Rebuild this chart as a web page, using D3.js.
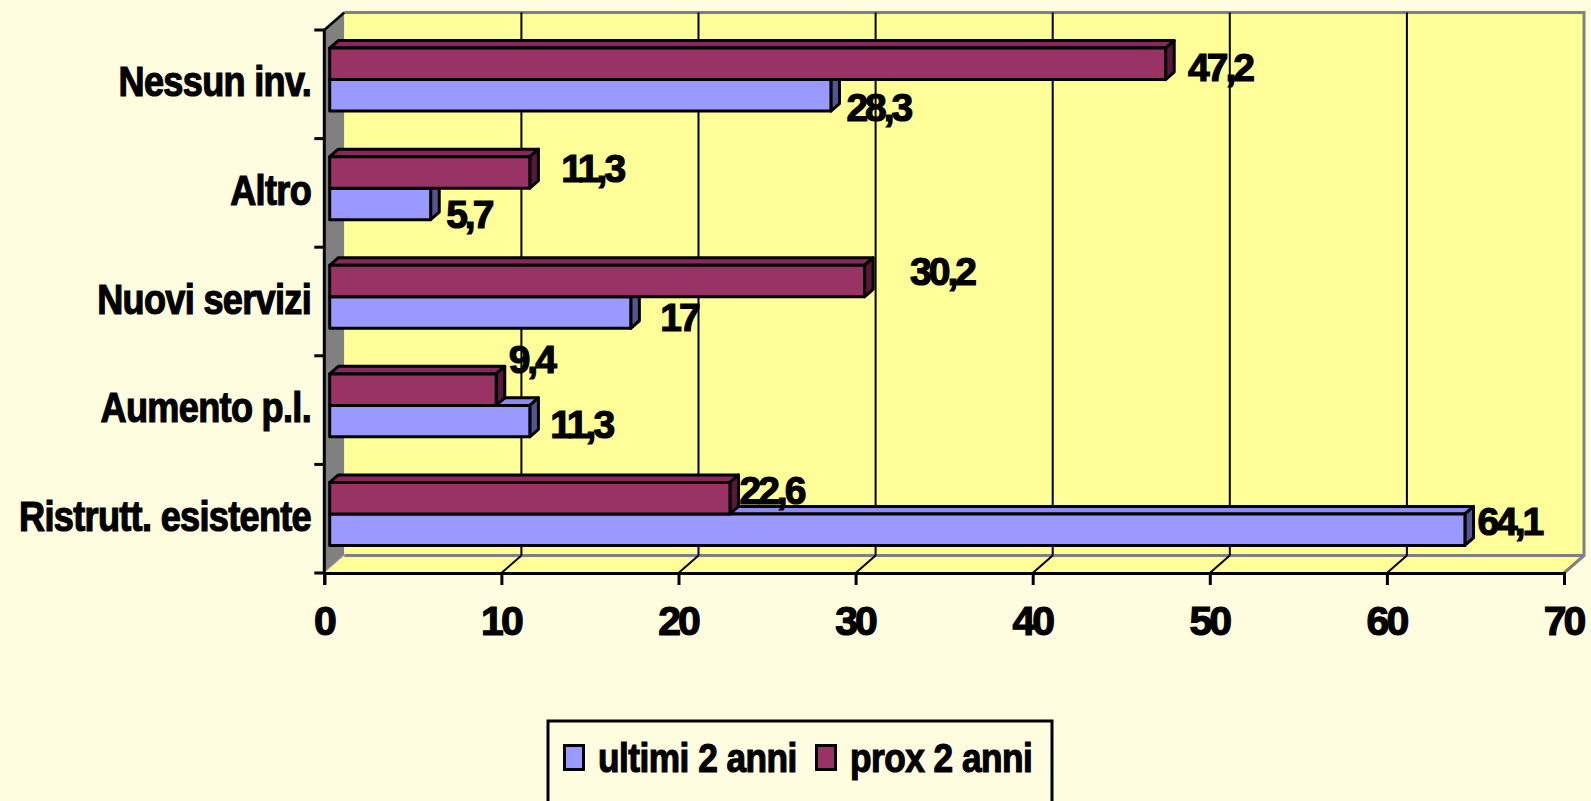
<!DOCTYPE html>
<html>
<head>
<meta charset="utf-8">
<script src="https://cdn.jsdelivr.net/npm/d3@7/dist/d3.min.js"></script>
<style>
  html, body { margin: 0; padding: 0; background: #FEFDE0; }
  svg { display: block; }
  text { font-family: "Liberation Sans", Arial, sans-serif; font-weight: 700; fill: #000; stroke: #000; stroke-width: 1.2px; }
</style>
</head>
<body>
<svg id="chart" width="1591" height="801"></svg>
<script>
// Investment types, listed from top to bottom
const categories = ["Nessun inv.", "Altro", "Nuovi servizi", "Aumento p.l.", "Ristrutt. esistente"];
const seriesNames = ["ultimi 2 anni", "prox 2 anni"];
const ultimi2anni = [28.3, 5.7, 17, 11.3, 64.1];
const prox2anni = [47.2, 11.3, 30.2, 9.4, 22.6];
const xTicks = [0, 10, 20, 30, 40, 50, 60, 70];

const colors = {
  "ultimi 2 anni": { front: "#9999FF", top: "#8C8CF0", side: "#54548F" },
  "prox 2 anni":   { front: "#993366", top: "#86295A", side: "#561A38" }
};

// Label offsets from the bar tip (px), mimicking the spreadsheet's 3D label placement
const labelNudge = {
  "ultimi 2 anni": [[17, 11.5], [17, 10], [31, 4.6], [22, 3], [14, -8.5]],
  "prox 2 anni":   [[24, 3.5], [33, -4], [47, -10], [14, -31], [11, -8]]
};

const svg = d3.select("#chart");
const fmt = d3.formatLocale({ decimal: ",", thousands: ".", grouping: [3], currency: ["", "€"] }).format("~r");

// Plot frame: front plane and depth offset of the 3D box
const plotL = 324.3, plotR = 1564, plotT = 30, plotB = 573;
const DX = 20, DY = -17.5;
const barFront = 0.27, barBack = 0.70; // depth fractions occupied by the bars

const x = d3.scaleLinear().domain([0, 70]).range([plotL, plotR]);
const y = d3.scaleBand().domain(categories).range([plotT, plotB]).paddingInner(0).paddingOuter(0);
const ySub = d3.scaleBand().domain(["prox 2 anni", "ultimi 2 anni"]).range([0, y.bandwidth()]).paddingInner(0).paddingOuter(0.724);

const P = (px, py, f) => [px + f * DX, py + f * DY];
const poly = pts => pts.map(p => p.join(",")).join(" ");

// Left side wall
svg.append("polygon")
  .attr("points", poly([P(plotL, plotT, 0), P(plotL, plotT, 1), P(plotL, plotB, 1), P(plotL, plotB, 0)]))
  .attr("fill", "#808080");
svg.append("line")
  .attr("x1", plotL).attr("y1", plotB).attr("x2", plotL + DX).attr("y2", plotB + DY)
  .attr("stroke", "#A0A0A0").attr("stroke-width", 2);

// Back wall
svg.append("rect")
  .attr("x", plotL + DX).attr("y", plotT + DY)
  .attr("width", plotR - plotL).attr("height", plotB - plotT)
  .attr("fill", "#FFFF99");
// Floor
svg.append("polygon")
  .attr("points", poly([P(plotL, plotB, 0), P(plotL, plotB, 1), P(plotR, plotB, 1), P(plotR, plotB, 0)]))
  .attr("fill", "#FFFF99");

// Gray frame edges
const gray = "#808080";
svg.append("polyline")
  .attr("points", poly([P(plotL, plotT, 1), P(plotR, plotT, 1), P(plotR, plotB, 1), P(plotR, plotB, 0)]))
  .attr("fill", "none").attr("stroke", gray).attr("stroke-width", 3);
svg.append("line")
  .attr("x1", plotL + DX).attr("y1", plotB + DY).attr("x2", plotR + DX).attr("y2", plotB + DY)
  .attr("stroke", gray).attr("stroke-width", 3);

// Gridlines on the back wall and floor
const inner = xTicks.filter(t => t > 0 && t < 70);
svg.append("g").selectAll("line").data(inner).join("line")
  .attr("x1", d => x(d) + DX).attr("x2", d => x(d) + DX)
  .attr("y1", plotT + DY).attr("y2", plotB + DY)
  .attr("stroke", "#000").attr("stroke-width", 2);
svg.append("g").selectAll("line").data(inner).join("line")
  .attr("x1", d => x(d)).attr("y1", plotB)
  .attr("x2", d => x(d) + DX).attr("y2", plotB + DY)
  .attr("stroke", "#000").attr("stroke-width", 2);

// Left wall top edge
svg.append("line")
  .attr("x1", plotL).attr("y1", plotT).attr("x2", plotL + DX).attr("y2", plotT + DY)
  .attr("stroke", "#000").attr("stroke-width", 2.5);

// X axis
const xAxis = svg.append("g")
  .attr("transform", `translate(0,${plotB})`)
  .call(d3.axisBottom(x).tickValues(xTicks).tickSize(12).tickPadding(20).tickFormat(d3.format("d")));
xAxis.select(".domain").attr("stroke", "#000").attr("stroke-width", 3);
xAxis.selectAll(".tick line").attr("stroke", "#000").attr("stroke-width", 3);
xAxis.selectAll(".tick text")
  .attr("font-size", 41).attr("letter-spacing", "-3px")
  .attr("dx", "-1px").attr("y", 62).attr("dy", 0)
  .attr("fill", "#000").attr("stroke", "#000").attr("stroke-width", 1.2)
  .style("font-family", "'Liberation Sans', Arial, sans-serif").style("font-weight", 700);

// Y axis line, ticks at band edges, category labels
svg.append("line")
  .attr("x1", plotL).attr("x2", plotL).attr("y1", plotT).attr("y2", plotB)
  .attr("stroke", "#000").attr("stroke-width", 3);
const edges = categories.map(c => y(c)).concat([plotB]);
svg.append("g").selectAll("line").data(edges).join("line")
  .attr("x1", plotL - 10).attr("x2", plotL).attr("y1", d => d).attr("y2", d => d)
  .attr("stroke", "#000").attr("stroke-width", 3);
svg.append("g").selectAll("text").data(categories).join("text")
  .attr("transform", d => `translate(311,${y(d) + y.bandwidth() / 2 + 12}) scale(0.86,1)`)
  .attr("text-anchor", "end")
  .attr("font-size", 42).attr("letter-spacing", "-0.8px").attr("stroke-width", 1.6)
  .text(d => d);

// Bars: blue series first so the maroon bar above it hides its top face
const seriesValues = { "ultimi 2 anni": ultimi2anni, "prox 2 anni": prox2anni };
const barsG = svg.append("g");
categories.forEach((cat, i) => {
  ["ultimi 2 anni", "prox 2 anni"].forEach(s => {
    const v = seriesValues[s][i];
    const y0 = y(cat) + ySub(s), y1 = y0 + ySub.bandwidth();
    const x0 = x(0), x1 = x(v);
    const c = colors[s];
    const g = barsG.append("g").attr("stroke", "#000").attr("stroke-width", 3).attr("stroke-linejoin", "round");
    g.append("polygon")
      .attr("points", poly([P(x0, y0, barFront), P(x1, y0, barFront), P(x1, y0, barBack), P(x0, y0, barBack)]))
      .attr("fill", c.top);
    g.append("polygon")
      .attr("points", poly([P(x1, y0, barFront), P(x1, y0, barBack), P(x1, y1, barBack), P(x1, y1, barFront)]))
      .attr("fill", c.side);
    const f0 = P(x0, y0, barFront), f1 = P(x1, y1, barFront);
    g.append("rect")
      .attr("x", f0[0]).attr("y", f0[1]).attr("width", f1[0] - f0[0]).attr("height", f1[1] - f0[1])
      .attr("fill", c.front);
  });
});

// Value labels
categories.forEach((cat, i) => {
  seriesNames.forEach(s => {
    const v = seriesValues[s][i];
    const y0 = y(cat) + ySub(s);
    const tip = P(x(v), y0 + ySub.bandwidth() / 2, barFront);
    const [ndx, ndy] = labelNudge[s][i];
    svg.append("text")
      .attr("x", tip[0] + ndx - 1.5).attr("y", tip[1] + ndy + 14)
      .attr("font-size", 39).attr("letter-spacing", "-3px")
      .text(fmt(v));
  });
});

// Legend
const legend = svg.append("g");
legend.append("rect")
  .attr("x", 548).attr("y", 721).attr("width", 504).attr("height", 95)
  .attr("fill", "#FEFDE0").attr("stroke", "#000").attr("stroke-width", 3);
const legendItems = [
  { name: "ultimi 2 anni", sx: 563, tx: 598 },
  { name: "prox 2 anni", sx: 815, tx: 850 }
];
legendItems.forEach(it => {
  legend.append("rect")
    .attr("x", it.sx + 1.5).attr("y", 745.5).attr("width", 19).attr("height", 24)
    .attr("fill", colors[it.name].front).attr("stroke", "#000").attr("stroke-width", 3);
  legend.append("text")
    .attr("transform", `translate(${it.tx},772) scale(0.86,1)`)
    .attr("font-size", 41).attr("letter-spacing", "-0.6px").attr("stroke-width", 1.6)
    .text(it.name);
});
</script>
</body>
</html>
